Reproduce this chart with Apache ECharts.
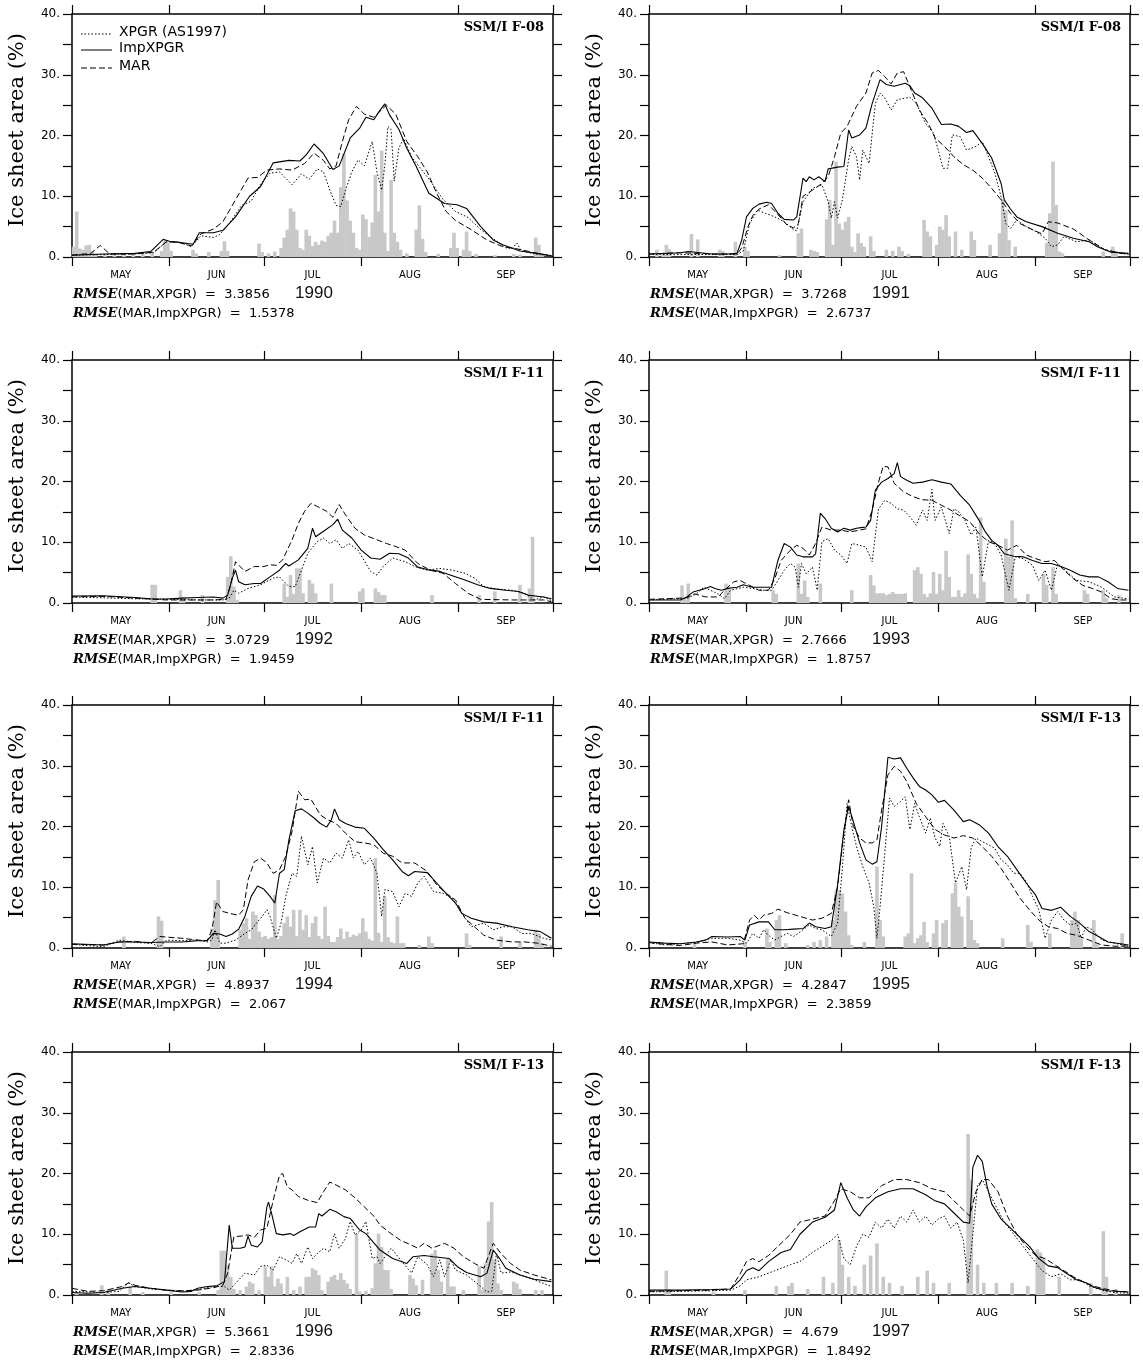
<!DOCTYPE html>
<html>
<head>
<meta charset="utf-8">
<title>Ice sheet melt area 1990-1997</title>
<script src="https://cdn.jsdelivr.net/npm/echarts@6/dist/echarts.min.js"></script>
<style>
  html, body { margin: 0; padding: 0; background: #fff; }
  #main { width: 1143px; height: 1363px; }
</style>
</head>
<body>
<div id="main"></div>
<script>
// x = day of season (0 = 1 May), y = % of ice sheet area
const years = [1990, 1991, 1992, 1993, 1994, 1995, 1996, 1997];
const sensors = ['SSM/I F-08', 'SSM/I F-08', 'SSM/I F-11', 'SSM/I F-11', 'SSM/I F-11', 'SSM/I F-13', 'SSM/I F-13', 'SSM/I F-13'];
const rmseXpgr = ['3.3856', '3.7268', '3.0729', '2.7666', '4.8937', '4.2847', '5.3661', '4.679'];
const rmseImp = ['1.5378', '2.6737', '1.9459', '1.8757', '2.067', '2.3859', '2.8336', '1.8492'];
const monthNames = ['MAY', 'JUN', 'JUL', 'AUG', 'SEP'];
const monthStarts = [0, 31, 61, 92, 123, 153];
const monthMids = [15.5, 46, 76.5, 107.5, 138];

// ---- 1990
const imp1990 = [[0,0.3],[10,0.5],[20,0.6],[25,0.9],[29,2.9],[31,2.6],[34,2.4],[38.5,2.1],[40.5,4.0],[45,4.0],[48,4.4],[52,6.6],[56.5,10],[60,11.6],[64,15.5],[69,15.9],[72.5,15.8],[74.5,16.8],[77,18.6],[80,17],[83,14.4],[85,15],[88.5,19.6],[91.5,21.2],[93.5,23],[96,22.6],[97.5,23.8],[99.5,25.2],[101,23.4],[104,21],[106.5,17.9],[109.5,14.9],[113.5,10.5],[118.5,8.8],[122.5,8.6],[125.5,8],[130,5],[134,2.8],[137,2.0],[142.5,1.0],[148,0.6],[152.5,0.2]];
const mar1990 = [[0,0.3],[6,0.6],[9,1.9],[12,0.5],[20,0.5],[26,0.8],[30,2.5],[34,2.4],[38,1.8],[41,3.8],[45,4.6],[48,5.8],[52,9.4],[56,13],[59,13.1],[62,14.3],[66,14.5],[70,14.3],[74,15.4],[77,17.1],[80,15.9],[82,14.5],[84,15],[86,19],[88,22.6],[90.5,24.8],[93,23.5],[96,23],[100,25],[103,23.5],[106.5,19],[110,16.5],[113,14],[116,10.5],[119,7.5],[122,6],[127,4.5],[132,2.8],[137,1.7],[141,1.4],[148,0.6],[152.5,0.2]];
const xpgr1990 = [[0,0.3],[10,0.4],[20,0.5],[26,0.7],[30,2.5],[34,2.5],[38,1.7],[41,3.5],[45,3.2],[47,3.7],[50,5.5],[54,8.5],[57,9.2],[60,12],[63,13.8],[66,14],[70,11.9],[73,13.7],[75.5,12.8],[78,14.5],[80,14],[82,11],[84,8.5],[85.5,8.3],[87,11],[89,14],[91,16],[93,15],[95.5,19],[97,14],[98.5,11],[99.5,15],[100.5,21.5],[101.5,21],[102.5,12.5],[104,18],[105.5,19.5],[108,16.5],[111,14.5],[114,12.5],[118,9.5],[122,7.5],[126,6.5],[130,4.5],[134,3],[138,1.5],[140,1.4],[141.5,2.3],[143,1.0],[147,0.5],[152.5,0.2]];
const bars1990 = [[0,1.7],[1,7.5],[2,1.4],[3,1.2],[4,1.9],[5,2.0],[6,1.0],[7,0.5],[10,0.4],[13,0.6],[16,0.5],[19,0.7],[22,0.8],[25,0.6],[28,1.0],[29,2.6],[30,2.4],[31,1.0],[38,1.2],[39,0.6],[43,0.8],[47,1.0],[48,2.6],[49,1.0],[59,2.2],[60,0.8],[62,0.6],[64,0.9],[66,1.5],[67,3.2],[68,4.5],[69,8],[70,7.5],[71,4.5],[72,1.5],[73,1.2],[74,4.5],[75,3.5],[76,1.8],[77,2.5],[78,2.0],[79,2.7],[80,2.5],[81,3.5],[82,4],[83,6],[84,4],[85,11.5],[86,17],[87,9.3],[88,6],[89,4],[90,1.5],[91,1.2],[92,7],[93,6.2],[94,3.3],[95,5.7],[96,13.5],[97,7.5],[98,17.5],[99,4],[100,1],[101,12.7],[102,4],[103,2.5],[104,1.2],[106,0.6],[109,4.5],[110,8.5],[111,3],[112,0.8],[116,0.5],[120,1.5],[121,4.0],[122,1.5],[124,1.2],[125,4.2],[126,1.0],[128,0.5],[134,0.3],[140,0.5],[142,0.4],[147,3.2],[148,2.0],[149,0.4]];

// ---- 1991
const imp1991 = [[0,0.5],[10,0.7],[12.5,0.9],[20,0.5],[25,0.5],[28,0.6],[29.5,2.8],[31,6.6],[33,8],[35,8.7],[37.5,9],[39,8.8],[41,7.2],[43,6.2],[46,6.1],[47,6.6],[49,13],[50,12.4],[51,13.2],[52.5,12.7],[54,13.2],[56,12.4],[57,14.5],[60,14.8],[62,14.9],[63.5,20.9],[64.5,19.6],[67,20.1],[69,21.2],[71,25.3],[73.5,29.2],[75.5,28.4],[78,28.1],[80,28.4],[81.5,28.6],[83,28.2],[84.5,27],[87,26.2],[90,24.5],[93,21.8],[96,21.9],[98.5,21.5],[101,20.5],[103,20.8],[106,18.7],[109,16.3],[112,12.1],[113,9.4],[115,7.9],[117,6.6],[120,5.8],[125,5.0],[130,3.9],[135,3.1],[140,2.5],[143,1.6],[147,0.8],[152.5,0.6]];
const mar1991 = [[0,0.5],[10,0.7],[20,0.5],[28,0.5],[29.5,1.5],[31.5,5],[33,6.8],[35,7.9],[38,8.6],[41,7.0],[44,5.2],[46,4.8],[47.5,5.5],[49,10],[52,11],[55,12.1],[57,13.2],[59,16.5],[61,20.4],[63,21.5],[66,24.8],[69,27],[71,30.3],[73,30.7],[75,29.7],[77,28.5],[79,30.3],[81,30.5],[83,28],[86,24.2],[89,21.8],[91,19.6],[94,18.2],[97,16.5],[100,15.2],[103,14.3],[106,13],[109,11.3],[112,9.4],[115,7.2],[118,5.5],[122,4.5],[125,3.8],[127,5.8],[130,5.6],[135,4.6],[140,2.8],[145,1.2],[150,0.6],[152.5,0.5]];
const xpgr1991 = [[0,0.4],[28,0.4],[30,1.0],[32,5.5],[34.5,7.7],[37,7.2],[40,6.6],[43,5.8],[46,4.5],[47,4.3],[49,9.1],[52,11.3],[55,11.9],[57,9.1],[58,6.4],[59,9.1],[60,6.4],[61.5,9.4],[63.5,16],[64.5,18.2],[66,16.5],[67,12.7],[68,17.6],[70,15.4],[72,25.3],[73.5,27],[75,26.2],[77,24.2],[79,25.9],[83,26.3],[85,25.3],[88,22],[90.5,20.4],[92,17.6],[93.5,14.6],[95,14.6],[96.5,20.1],[99,19.8],[101,17.6],[104,18.2],[106,19],[108,16.5],[110,13.8],[112,9.9],[113.5,5.5],[115,4.7],[117,6.1],[120,5],[123,4.2],[126,3.1],[128,1.7],[130,2],[132,3.4],[136,2.5],[140,2.8],[145,1.2],[152.5,0.4]];
const bars1991 = [[2,1.2],[4,0.5],[5,2],[6,1.3],[13,3.8],[15,2.9],[22,1.2],[23,1.0],[27,2.5],[30,1.7],[31,1.0],[41,0.3],[47,3.9],[48,4.7],[51,1.2],[52,1.0],[53,0.8],[56,6.2],[57,9.4],[58,2.0],[59,15.7],[60,5.5],[61,4.5],[62,5.8],[63,6.6],[64,1.7],[65,0.8],[66,3.9],[67,2.3],[68,1.7],[70,3.4],[71,1.0],[75,1.2],[77,1.0],[79,1.7],[80,1.0],[82,0.5],[87,6.1],[88,4.2],[89,3.4],[91,2.0],[92,5],[93,4.5],[94,6.9],[95,3.4],[97,4.2],[99,1.2],[102,4.2],[103,2.8],[108,2.0],[111,3.9],[112,9.4],[113,7.7],[114,2.8],[116,1.7],[126,2.3],[127,7.2],[128,15.7],[129,8.6],[130,0.9],[131,0.6],[144,0.9],[147,1.7],[148,0.9]];

// ---- 1992
const imp1992 = [[0,1.15],[10,1.2],[20,0.9],[25,0.7],[30,0.65],[35,0.8],[40,0.9],[45,1.0],[48,0.8],[49.5,1.3],[51,4.1],[52,5.4],[53,3.5],[55,3.0],[58,3.2],[60,3.2],[63,4.3],[66,5.4],[67,6],[68,6.5],[69,6.1],[72,7.1],[75,9],[76.5,12.3],[77.5,10.9],[80,11.8],[83,12.9],[84.5,13.8],[86,12],[89,10.7],[92,8.7],[95,7.4],[98,7.2],[101,8.2],[104,8.1],[107,7.4],[110,5.9],[113,5.5],[117,5.2],[121,4.5],[125,3.8],[129,3],[133,2.4],[138,2.1],[142,1.9],[145,1.3],[150,1.0],[152.5,0.7]];
const mar1992 = [[0,1.0],[10,1.1],[20,0.8],[30,0.5],[45,0.5],[49,0.6],[50.5,3],[52,6.8],[55,5.2],[58,6],[61,6],[63,6.3],[65,6.2],[67,7.1],[70,10.4],[72,13.1],[74,15.1],[76,16.4],[78,15.9],[81,15.1],[83,14.1],[85,16.2],[87,14.5],[90,12.3],[93,11.2],[97,10.4],[100,9.8],[103,9.3],[106,8.7],[110,6.5],[114,5.4],[118,4.9],[122,3.2],[126,1.6],[130,0.6],[140,0.5],[150,0.5],[152.5,0.2]];
const xpgr1992 = [[0,1.0],[20,0.7],[40,0.5],[48,0.5],[50,0.8],[51.5,2.1],[53,1.6],[56,2.4],[60,3],[64,4.1],[66,4.3],[67.5,3.5],[69,2.7],[71,2.7],[73,5.4],[75,8.2],[78,10.1],[80,10.7],[82,9.8],[84,10.4],[86,9],[88,9.8],[91,8.7],[93.5,6.5],[95,5.2],[97,4.6],[99,6.0],[102,7.4],[106,6.8],[109,6.0],[113,5.4],[117,5.7],[121,5.4],[125,4.9],[128,4.1],[131,2.7],[135,2.3],[140,2.1],[144,1.6],[147,0.5],[150,1.0],[152.5,0.4]];
const bars1992 = [[25,3.0],[26,3.0],[34,2.1],[35,1.0],[41,1.3],[49,4.3],[50,7.7],[51,2.7],[52,0.5],[67,3.2],[68,1.0],[69,4.6],[70,1.5],[71,5.7],[72,5.7],[73,1.6],[75,3.8],[76,3.2],[77,1.6],[82,3.2],[91,1.9],[92,2.4],[96,2.4],[97,1.8],[98,1.3],[99,1.3],[114,1.3],[129,1.3],[134,1.9],[142,3.0],[145,2.4],[146,10.9]];

// ---- 1993
const imp1993 = [[0,0.5],[10,0.5],[12,1.0],[14,1.8],[18,2.4],[19.5,2.7],[21,2.4],[23,2.1],[25,2.4],[28,2.6],[30,3.0],[33,2.6],[36,2.6],[39,2.6],[41,7.0],[43,9.8],[45,9.2],[47,7.9],[49,7.6],[52,7.6],[53,8.1],[54.5,14.8],[56,13.9],[58,12.3],[60,11.7],[62,12.3],[64,12],[66,12.3],[67.5,12.4],[69,12.5],[70.5,13.6],[72,18.6],[74,19.9],[76,20.5],[78,21.3],[79,23.1],[80,20.8],[82,20.2],[84,19.7],[87,19.9],[90,20.3],[93,19.9],[96,19.6],[99,17.7],[102,16.1],[105,13.6],[107,11.7],[109,10.3],[111,9.5],[113,8.1],[116,7.7],[119,7.6],[122,7.0],[125,6.5],[128,6.5],[131,6.0],[134,5.4],[137,4.6],[140,4.3],[143,4.3],[146,3.5],[149,2.4],[152.5,2.1]];
const mar1993 = [[0,0.6],[10,0.8],[12,0.9],[14.5,1.5],[18,1.0],[22,1.0],[24,2.1],[27,3.5],[29,3.7],[32,2.9],[35,2.1],[38,2.1],[40,4.0],[42,7.0],[45,8.7],[47,9.5],[49,9.0],[51,7.9],[53,9.8],[55,12.5],[58,12],[61,12],[64,11.7],[67,12],[69,12.2],[71,15.3],[73,19.9],[74.5,22.5],[76,22.4],[78,19.7],[81,18.3],[84,17.5],[87,17],[90,16.9],[93,16.1],[96,15.3],[99,14.3],[102,13.4],[105,11.4],[108,10.1],[111,9.5],[114,8.7],[117,9.5],[120,7.9],[123,7.3],[126,6.8],[129,7.0],[132,5.4],[135,4.0],[138,2.9],[141,2.4],[144,1.8],[147,0.7],[150,0.5],[152.5,0.5]];
const xpgr1993 = [[0,0.5],[10,0.7],[12,0.7],[15,1.5],[17.5,2.6],[22,1.5],[24,0.7],[26,2.1],[30,2.6],[33,2.4],[36,2.1],[39,2.1],[41,3.7],[43,5.4],[45,6.5],[46.5,5.9],[47.5,2.6],[48.5,6.5],[50,4.8],[52,5.9],[53.5,2.1],[55,10.1],[57,10.6],[59,8.7],[61,7.9],[63,6.5],[64.5,9.8],[67,9.5],[69,9.2],[71,6.8],[73,15.5],[75,16.9],[77,16.4],[79,15.5],[81,15.3],[83,14.2],[85,12.8],[87,15.3],[88.5,13.6],[90,18.7],[91,13.6],[93,15.8],[95.5,11.4],[97,15.5],[98.5,15.0],[100.5,13.6],[102.5,11.2],[104,12.5],[106,4.3],[108,10.3],[110,9.8],[112,7.9],[114.5,2.1],[116.5,7.6],[119,7.3],[122,6.2],[124,3.7],[126,5.4],[128,2.1],[130,6.5],[133,5.1],[136,3.7],[140,3.5],[144,2.6],[148,1.0],[152.5,0.7]];
const bars1993 = [[10,2.9],[11,0.5],[12,3.2],[24,3.2],[25,2.5],[39,2.1],[40,1.5],[47,6.5],[48,1.5],[49,3.7],[50,1.0],[54,3.2],[64,2.1],[70,4.6],[71,2.9],[72,1.6],[73,1.6],[74,1.6],[75,1.3],[76,1.5],[77,1.8],[78,1.5],[79,1.5],[80,1.5],[81,1.6],[84,5.4],[85,5.9],[86,4.8],[87,1.5],[88,1.0],[89,1.6],[90,5.1],[91,1.5],[92,4.8],[93,2.1],[94,8.6],[95,4.3],[96,1.0],[97,1.0],[98,2.1],[99,1.0],[100,1.6],[101,8.0],[102,4.8],[103,1.5],[104,0.8],[105,14.1],[106,3.5],[113,10.6],[114,7.6],[115,13.6],[116,0.8],[120,1.5],[125,4.8],[126,3.0],[128,5.9],[129,1.5],[138,2.1],[139,1.5],[144,2.1],[145,0.8],[149,1.3]];

// ---- 1994
const imp1994 = [[0,0.7],[10,0.5],[15,1.0],[20,1.0],[25,0.9],[30,1.0],[35,1.0],[40,1.2],[43,1.2],[45,2.4],[47,2.3],[49,1.9],[51,2.3],[53,3.1],[55,5.2],[57,8.5],[59,10.2],[61,9.7],[63,8.5],[64.5,7.4],[66,12.3],[67.5,12.9],[69,17.8],[71,22.6],[73,22.9],[75,22.2],[77,21.4],[79,20.5],[81,19.9],[82.5,21.1],[83.5,22.9],[85,21.1],[87,20.5],[90,19.9],[93,19.7],[96,18.1],[99,16.2],[102,14.5],[105,12.6],[107,11.9],[109,12.6],[113,12.4],[116,10.7],[119,9.0],[122,7.4],[124,5.7],[127,4.9],[131,4.3],[135,4.1],[140,3.5],[145,3.0],[149,2.7],[152.5,1.6]];
const mar1994 = [[0,0.6],[10,0.5],[15,1.0],[20,1.1],[25,0.8],[28,1.9],[30,1.8],[35,1.6],[40,1.3],[43,1.2],[44.5,3.0],[46,7.6],[48,6.0],[51,5.6],[53,5.4],[54.5,6.3],[56,11.2],[58,14.2],[60,14.8],[62,14],[64,12.3],[66,12.9],[68,15.1],[70,19.2],[72,25.8],[74,24.4],[76,24.5],[79,21.9],[81,21.2],[84,20.5],[87,18.9],[90,17.5],[93,17.3],[96,17],[99,15.6],[102,15.1],[105,14],[109,14],[113,12.6],[116,10.4],[119,9.0],[122,7.9],[125,4.9],[128,3.5],[131,2.1],[135,1.3],[140,1.0],[144,1.0],[148,0.8],[152.5,0.3]];
const xpgr1994 = [[0,0.6],[10,0.2],[15,1.3],[20,0.9],[25,0.8],[28,0.2],[30,1.3],[35,1.2],[40,1.3],[43,1.0],[44.5,1.3],[45.5,3.0],[47,0.8],[49,0.8],[52,1.3],[55,2.4],[57,3.0],[59,4.3],[60.5,5.2],[62,6.3],[63,5.2],[65,1.6],[66.5,4.1],[68,8.5],[70,12.3],[71.5,11.8],[73,18.4],[75,13.7],[76.5,16.7],[78,10.7],[80,14.8],[82,14.0],[84,15.6],[86,14.8],[88,17.8],[89.5,14.8],[91,15.9],[93,13.7],[95,14.8],[97,12.3],[98.5,5.2],[99.5,9.6],[102,9.3],[104,6.8],[106,9.0],[108,8.5],[110,10.7],[112,11.8],[115,9.3],[118,9.0],[121,8.2],[124,5.7],[127,3.5],[131,4.1],[134,3.0],[137,3.5],[140,3.5],[143,2.4],[146,2.4],[150,1.6],[152.5,1.3]];
const bars1994 = [[16,1.9],[27,5.2],[28,4.5],[44,3.2],[45,7.9],[46,11.2],[53,3.0],[54,4.1],[55,4.9],[56,1.5],[57,6.0],[58,5.4],[59,2.7],[60,1.8],[61,2.0],[62,1.5],[63,1.8],[64,8.7],[65,1.5],[66,2.0],[67,4.1],[68,5.2],[69,3.5],[70,6.3],[71,2.0],[72,6.3],[73,3.0],[74,5.4],[75,1.8],[76,4.1],[77,5.2],[78,2.0],[79,1.5],[80,6.8],[81,2.0],[82,1.0],[83,1.0],[84,1.8],[85,3.2],[86,1.5],[87,2.7],[88,1.8],[89,2.2],[90,2.0],[91,2.4],[92,4.9],[93,2.7],[94,1.5],[95,1.2],[96,14.8],[97,2.5],[98,1.0],[99,8.5],[100,1.8],[101,1.0],[102,0.8],[103,5.2],[104,0.8],[105,0.8],[110,0.5],[113,1.9],[114,0.8],[125,2.4],[126,0.5],[136,1.9],[142,1.0],[147,3.0],[148,2.4],[149,0.8]];

// ---- 1995
const imp1995 = [[0,1.0],[5,0.8],[10,0.7],[15,1.0],[18,1.3],[20,1.9],[25,1.8],[29,1.9],[30.5,1.3],[32,3.8],[35,4.3],[38,4.3],[40,3.0],[43,3.0],[46,3.1],[49,3.2],[51,4.1],[53,3.5],[56,3.2],[58,3.5],[60,10.4],[62,19.5],[63.5,23.3],[65,20.8],[67,17.3],[69,14.5],[71,13.8],[72.5,14.2],[74,20],[76,31.4],[78,31.1],[80,31.3],[82,29.6],[84,28],[86,26.6],[88,26],[90,25.2],[92,24],[94,24.3],[97,22.7],[100,20.8],[102,21.1],[105,20.3],[108,18.9],[111,16.7],[114,15.1],[117,12.9],[120,10.7],[123,8.7],[125,6.5],[128,6.2],[131,6.7],[134,5.2],[137,4.1],[140,2.7],[143,1.9],[146,1.0],[150,0.7],[152.5,0.5]];
const mar1995 = [[0,0.9],[5,0.6],[10,0.4],[15,0.8],[20,1.0],[25,0.5],[30,0.7],[32,4.6],[33.5,5.4],[35,4.6],[36.5,5.4],[39,5.7],[41,6.4],[44,5.8],[48,5.2],[52,4.6],[55,4.9],[58,5.7],[60,10.1],[62,18.9],[63.5,24.4],[65,20],[67,18.1],[69,17.3],[71,17.3],[72.5,17.8],[74,22.7],[76,28.5],[78,29.9],[80,29.1],[82,27.4],[85,23.8],[88,21.6],[91,19.5],[94,18.6],[97,18.1],[100,18.5],[103,18.1],[106,16.7],[109,15.1],[112,13.1],[115,10.7],[118,8.2],[121,6.3],[124,4.6],[127,3.5],[130,3.2],[133,2.4],[136,2.1],[140,1.3],[144,0.5],[148,0.3],[152.5,0.3]];
const xpgr1995 = [[0,0.9],[5,0.5],[10,0.7],[15,0.9],[20,1.6],[25,1.6],[29,1.3],[31,0.8],[33,2.4],[35,1.6],[36.5,3.0],[38,2.1],[40,1.3],[42,1.9],[44,2.4],[46,1.9],[49,3.0],[51,3.8],[53,3.2],[55,3.0],[58,1.9],[60,4.1],[61.5,13.1],[63,23.8],[64.5,20],[66,16.7],[68,13.4],[70,10.7],[71.5,6.8],[72.5,1.6],[73.5,6.8],[75,15.6],[76.5,24.7],[78,23.3],[80,24.1],[81.5,24.9],[83,19.5],[84.5,23.8],[86,21.6],[88,18.9],[89.5,21.4],[91,18.1],[92.5,16.7],[93.5,20.5],[95.5,18.4],[97.5,10.7],[99.5,13.4],[101,9.6],[102.5,16.5],[104,18.1],[106,17.5],[108,17.0],[110,16.4],[112,14.5],[114,13.7],[116,12.3],[118,12.3],[120,10.9],[122,8.5],[124,6.3],[126,1.6],[128,4.6],[130,6.0],[132,4.6],[134,3.8],[136,4.1],[137.5,1.6],[139,3.5],[141,3.0],[144,1.3],[148,0.8],[152.5,0.3]];
const bars1995 = [[14,0.8],[30,1.0],[37,3.2],[38,1.0],[40,4.6],[41,5.4],[43,0.8],[50,0.5],[52,1.0],[54,1.3],[56,1.9],[58,4.6],[59,9.5],[60,9.6],[61,9.0],[62,6.0],[63,2.1],[64,0.5],[68,1.0],[72,13.4],[73,4.6],[74,1.9],[81,1.9],[82,2.4],[83,12.3],[84,0.8],[85,1.6],[86,2.1],[87,4.3],[88,1.0],[90,2.4],[91,4.6],[93,4.1],[94,4.6],[96,9.0],[97,10.7],[98,6.8],[99,5.2],[101,8.5],[102,4.6],[103,1.3],[104,0.8],[112,1.6],[120,3.8],[121,1.0],[127,2.4],[134,4.6],[135,6.0],[136,4.6],[137,1.5],[141,4.6],[142,0.8],[150,2.4]];

// ---- 1996
const imp1996 = [[0,0.4],[5,0.3],[10,0.4],[16,1.1],[20,1.4],[25,1.1],[30,0.8],[35,0.5],[38,0.6],[40,1.1],[43,1.4],[46,1.5],[48.5,2.2],[50,11.5],[51,7.7],[53.5,7.7],[55,7.9],[56,9.7],[57,8.2],[59,7.9],[60.5,8.8],[62,14.5],[62.5,15.3],[63.5,13.4],[65,10.1],[67,9.9],[69.5,10.1],[70.5,9.8],[72.5,10.4],[75.5,11.2],[77.5,11.2],[78.5,13.4],[79.5,13],[82,14.1],[84,13.7],[86.5,12.9],[88.5,12.6],[91.5,10.7],[93.5,10.1],[98,7.4],[102,6.0],[106.5,5.2],[108.5,6.3],[112,6.5],[115,6.3],[120,6.0],[122.5,4.7],[125.5,3.7],[130,3.0],[132,3.6],[134,7.4],[136,6.0],[138,4.4],[142.5,3.3],[147,2.6],[152.5,2.2]];
const mar1996 = [[0,1.1],[5,0.6],[10,0.7],[16,1.4],[18,2.0],[20,1.6],[25,1.1],[30,0.8],[35,0.7],[40,0.8],[45,1.2],[48,1.6],[49.5,3.6],[51.5,9.6],[54,9.7],[56,9.9],[58,9.5],[60,10.7],[62,11],[64,15.6],[66,19.7],[67,20],[68.5,17.8],[70,17.3],[72,16.2],[75,15.6],[78,15.2],[80,17],[82,18.6],[84,18.1],[87,17.3],[90,16],[93,14.5],[96,13],[98,11.5],[101.5,10.1],[104.5,9.0],[108,8.2],[110,7.7],[112,8.5],[114.5,7.7],[118.5,8.5],[121.5,7.7],[124.5,6.3],[128,5.2],[131,4.4],[134,8.5],[136.5,6.8],[139.5,5.2],[142.5,4.1],[147,3.3],[152.5,2.5]];
const xpgr1996 = [[0,0.6],[10,0.4],[15,0.6],[18,2.0],[20,1.4],[25,1.0],[30,0.8],[35,0.6],[40,0.9],[45,1.4],[48.5,1.4],[50,0.8],[52,1.9],[55,3.6],[58,3.3],[60,4.7],[62,4.9],[64,4.1],[66,6.3],[68,5.8],[70,5.2],[71.5,6.8],[73,5.2],[75,7.9],[76.5,6.0],[78,6.8],[80,7.7],[82,7.1],[83.5,10.1],[85,7.7],[87,9.3],[88.5,12.1],[90,9.9],[92,10.7],[93.5,12.1],[95.5,6.0],[97,6.3],[98,5.2],[101.5,7.7],[104.5,5.8],[108,3.6],[110,6.3],[113,5.0],[115,3.0],[117,5.8],[118.5,3.0],[120.5,5.8],[122,4.1],[125.5,3.3],[130,1.4],[132,0.5],[133.5,0.6],[135,6.8],[136.5,3.6],[139.5,3.8],[142.5,3.3],[147,2.5],[152.5,1.4]];
const bars1996 = [[1,0.5],[9,1.6],[11,0.9],[18,1.4],[22,0.5],[31,0.5],[40,0.5],[46,0.8],[47,7.3],[48,7.3],[49,4.9],[50,3.0],[51,1.0],[53,0.8],[55,1.4],[56,2.2],[57,1.9],[59,0.8],[61,4.7],[62,3.0],[63,4.7],[64,1.4],[65,2.7],[66,1.9],[68,3.0],[70,0.8],[72,1.4],[74,3.0],[75,3.0],[76,4.4],[77,4.1],[78,3.3],[79,0.8],[81,2.2],[82,3.0],[83,3.3],[84,2.5],[85,3.6],[86,2.5],[87,1.9],[88,1.0],[90,10.1],[91,0.6],[93,0.7],[95,1.1],[96,5.2],[97,10.1],[98,7.9],[99,4.1],[100,4.1],[101,1.0],[107,3.3],[108,2.7],[109,1.6],[111,2.5],[114,6.8],[115,7.4],[116,4.1],[117,2.2],[119,6.0],[120,1.4],[121,1.4],[124,0.8],[129,4.7],[130,0.8],[131,5.2],[132,12.1],[133,15.3],[134,5.8],[135,1.9],[136,0.8],[140,2.2],[141,1.9],[142,1.0],[147,0.8],[149,0.8]];

// ---- 1997
const imp1997 = [[0,0.8],[10,0.8],[20,0.9],[26,1.0],[29,2.5],[31,4.0],[33,4.5],[35,4],[38,5.5],[42,7],[45,7.5],[48,10],[52,12],[56,12.8],[59,14],[61,18.5],[63,16],[65,14],[67,13],[69,14.5],[72,16],[76,17],[80,17.5],[84,17.5],[88,16.5],[91,15.5],[94,15],[97,13.5],[100,12],[102,11.8],[103,21],[104.5,23],[106,22],[107.5,18],[109,15],[112,12.5],[115,11],[118,9.5],[121,8],[124,6],[127,4.8],[130,4.5],[133,3.5],[136,2.5],[139,2],[142,1.2],[146,0.7],[152.5,0.5]];
const mar1997 = [[0,0.6],[10,0.7],[20,0.8],[26,1.0],[29,3.5],[31,5.5],[33,6],[35,5.5],[38,6.5],[42,8.5],[45,10],[48,12],[52,12.5],[56,13],[59,15.5],[61,17.5],[64,17],[67,16],[70,16],[74,18],[78,19],[82,19],[86,18.5],[90,17.5],[94,17],[97,15.5],[100,14],[102,13],[104,17],[106,19],[108,19],[111,17],[114,13],[117,10],[120,8],[123,6.5],[126,6],[129,5],[132,4],[135,3],[138,2.2],[141,1.5],[145,1.0],[149,0.6],[152.5,0.5]];
const xpgr1997 = [[0,0.5],[10,0.6],[20,0.7],[26,0.8],[29,1.5],[31,2.5],[35,3],[40,4],[45,5],[48,5.5],[52,7],[55,8],[58,9],[60,10],[62,6],[64,5],[66,8],[68,10],[70,9.5],[72,12],[74,11],[76,12.5],[78,11],[80,13],[82,12],[84,14],[86,12],[88,13],[90,11.5],[92,12.5],[94,13],[96,11],[98,12],[100,9],[101.5,2],[103,10],[104.5,18],[106,19],[108,17],[110,15],[113,12],[116,10],[119,8],[122,6],[125,4],[128,3],[131,3.5],[134,2.5],[137,2.5],[140,1.5],[144,0.8],[148,0.4],[152.5,0.3]];
const bars1997 = [[5,4.0],[6,1.0],[20,0.5],[30,0.8],[40,1.5],[44,1.5],[45,2],[50,1],[55,3],[58,2],[60,9],[61,5],[63,3],[65,1.5],[68,5],[70,6.5],[72,8.5],[74,3],[76,2],[80,1.5],[85,3],[88,4],[90,2],[95,2],[101,26.5],[102,19],[104,5],[106,2],[110,2],[115,2],[120,1.5],[123,7.5],[124,7],[125,6],[130,3],[140,2],[144,10.5],[145,3],[148,1]];

const impSeries = [imp1990, imp1991, imp1992, imp1993, imp1994, imp1995, imp1996, imp1997];
const marSeries = [mar1990, mar1991, mar1992, mar1993, mar1994, mar1995, mar1996, mar1997];
const xpgrSeries = [xpgr1990, xpgr1991, xpgr1992, xpgr1993, xpgr1994, xpgr1995, xpgr1996, xpgr1997];
const barSeries = [bars1990, bars1991, bars1992, bars1993, bars1994, bars1995, bars1996, bars1997];

// layout of the 4x2 panel grid
const colLeft = [72, 649];
const rowTop = [14, 360, 705, 1052];
const plotW = 481;
const plotH = 243;

const dotted = [1.5, 2];
const dashed = [6, 3];
const axisColor = '#000';

const grids = [], xAxes = [], yAxes = [], series = [], graphics = [];

years.forEach((yr, i) => {
    const left = colLeft[i % 2];
    const top = rowTop[Math.floor(i / 2)];
    grids.push({left: left, top: top, width: plotW, height: plotH});

    const xBase = {
        gridIndex: i, type: 'value', min: 0, max: 153,
        splitLine: {show: false},
        axisLine: {show: true, onZero: false, lineStyle: {color: axisColor, width: 1.5}},
        axisTick: {show: true, length: 9, customValues: monthStarts, lineStyle: {color: axisColor, width: 1.2}}
    };
    xAxes.push(Object.assign({}, xBase, {
        position: 'bottom',
        axisLabel: {
            show: true, customValues: monthMids, margin: 13,
            fontSize: 10, fontFamily: 'DejaVu Sans', color: '#000',
            formatter: v => monthNames[monthMids.indexOf(v)] || ''
        }
    }));
    xAxes.push(Object.assign({}, xBase, {position: 'top', axisLabel: {show: false}}));

    const yBase = {
        gridIndex: i, type: 'value', min: 0, max: 40, interval: 5,
        splitLine: {show: false},
        axisLine: {show: true, onZero: false, lineStyle: {color: axisColor, width: 1.5}},
        axisTick: {show: true, length: 9, lineStyle: {color: axisColor, width: 1.2}}
    };
    yAxes.push(Object.assign({}, yBase, {
        position: 'left',
        axisLabel: {
            show: true, margin: 12, fontSize: 12, fontFamily: 'DejaVu Sans', color: '#000',
            formatter: v => (v % 10 === 0 ? v + '.' : '')
        }
    }));
    yAxes.push(Object.assign({}, yBase, {position: 'right', axisLabel: {show: false}}));

    const xi = 2 * i, yi = 2 * i;
    series.push({
        type: 'bar', xAxisIndex: xi, yAxisIndex: yi, barWidth: 3.6, z: 1,
        itemStyle: {color: '#c8c8c8'},
        data: barSeries[i].map(d => [d[0] + 0.5, d[1]])
    });
    series.push({
        type: 'line', xAxisIndex: xi, yAxisIndex: yi, showSymbol: false, symbol: 'none', z: 3,
        lineStyle: {color: '#000', width: 1, type: dotted}, data: xpgrSeries[i]
    });
    series.push({
        type: 'line', xAxisIndex: xi, yAxisIndex: yi, showSymbol: false, symbol: 'none', z: 4,
        lineStyle: {color: '#000', width: 1.1, type: 'solid'}, data: impSeries[i]
    });
    series.push({
        type: 'line', xAxisIndex: xi, yAxisIndex: yi, showSymbol: false, symbol: 'none', z: 3,
        lineStyle: {color: '#000', width: 1, type: dashed}, data: marSeries[i]
    });

    // panel texts
    graphics.push({
        type: 'text', x: left - 54, y: top + 116, rotation: Math.PI / 2,
        style: {text: 'Ice sheet area (%)', font: '21px "DejaVu Serif"', fill: '#000',
                textAlign: 'center', textVerticalAlign: 'middle'}
    });
    graphics.push({
        type: 'text', x: left + plotW - 9, y: top + 14,
        style: {text: sensors[i], font: 'bold 13px "DejaVu Serif"', fill: '#000',
                textAlign: 'right', textVerticalAlign: 'middle'}
    });
    graphics.push({
        type: 'text', x: left + 242, y: top + 279,
        style: {text: String(yr), font: '17px "Liberation Sans"', fill: '#111',
                textAlign: 'center', textVerticalAlign: 'middle'}
    });
    const rich = {
        a: {font: 'bold italic 13px "DejaVu Serif"', fill: '#000'},
        b: {font: '13px "DejaVu Sans"', fill: '#000'}
    };
    graphics.push({
        type: 'text', x: left + 1, y: top + 281,
        style: {text: '{a|RMSE}{b|(MAR,XPGR)  =  ' + rmseXpgr[i] + '}', rich: rich, textVerticalAlign: 'middle'}
    });
    graphics.push({
        type: 'text', x: left + 1, y: top + 300,
        style: {text: '{a|RMSE}{b|(MAR,ImpXPGR)  =  ' + rmseImp[i] + '}', rich: rich, textVerticalAlign: 'middle'}
    });
});

// legend in the first panel
const legendRows = [
    {label: 'XPGR (AS1997)', dash: dotted, y: 32},
    {label: 'ImpXPGR', dash: null, y: 48},
    {label: 'MAR', dash: dashed, y: 66}
];
legendRows.forEach(r => {
    graphics.push({
        type: 'line', shape: {x1: 81, y1: r.y + 2, x2: 112, y2: r.y + 2},
        style: {stroke: '#000', lineWidth: 1, lineDash: r.dash}
    });
    graphics.push({
        type: 'text', x: 119, y: r.y,
        style: {text: r.label, font: '14px "DejaVu Sans"', fill: '#000', textVerticalAlign: 'middle'}
    });
});

const chart = echarts.init(document.getElementById('main'), null, {renderer: 'canvas'});
chart.setOption({
    animation: false,
    backgroundColor: '#fff',
    grid: grids,
    xAxis: xAxes,
    yAxis: yAxes,
    series: series,
    graphic: graphics
});
</script>
</body>
</html>
